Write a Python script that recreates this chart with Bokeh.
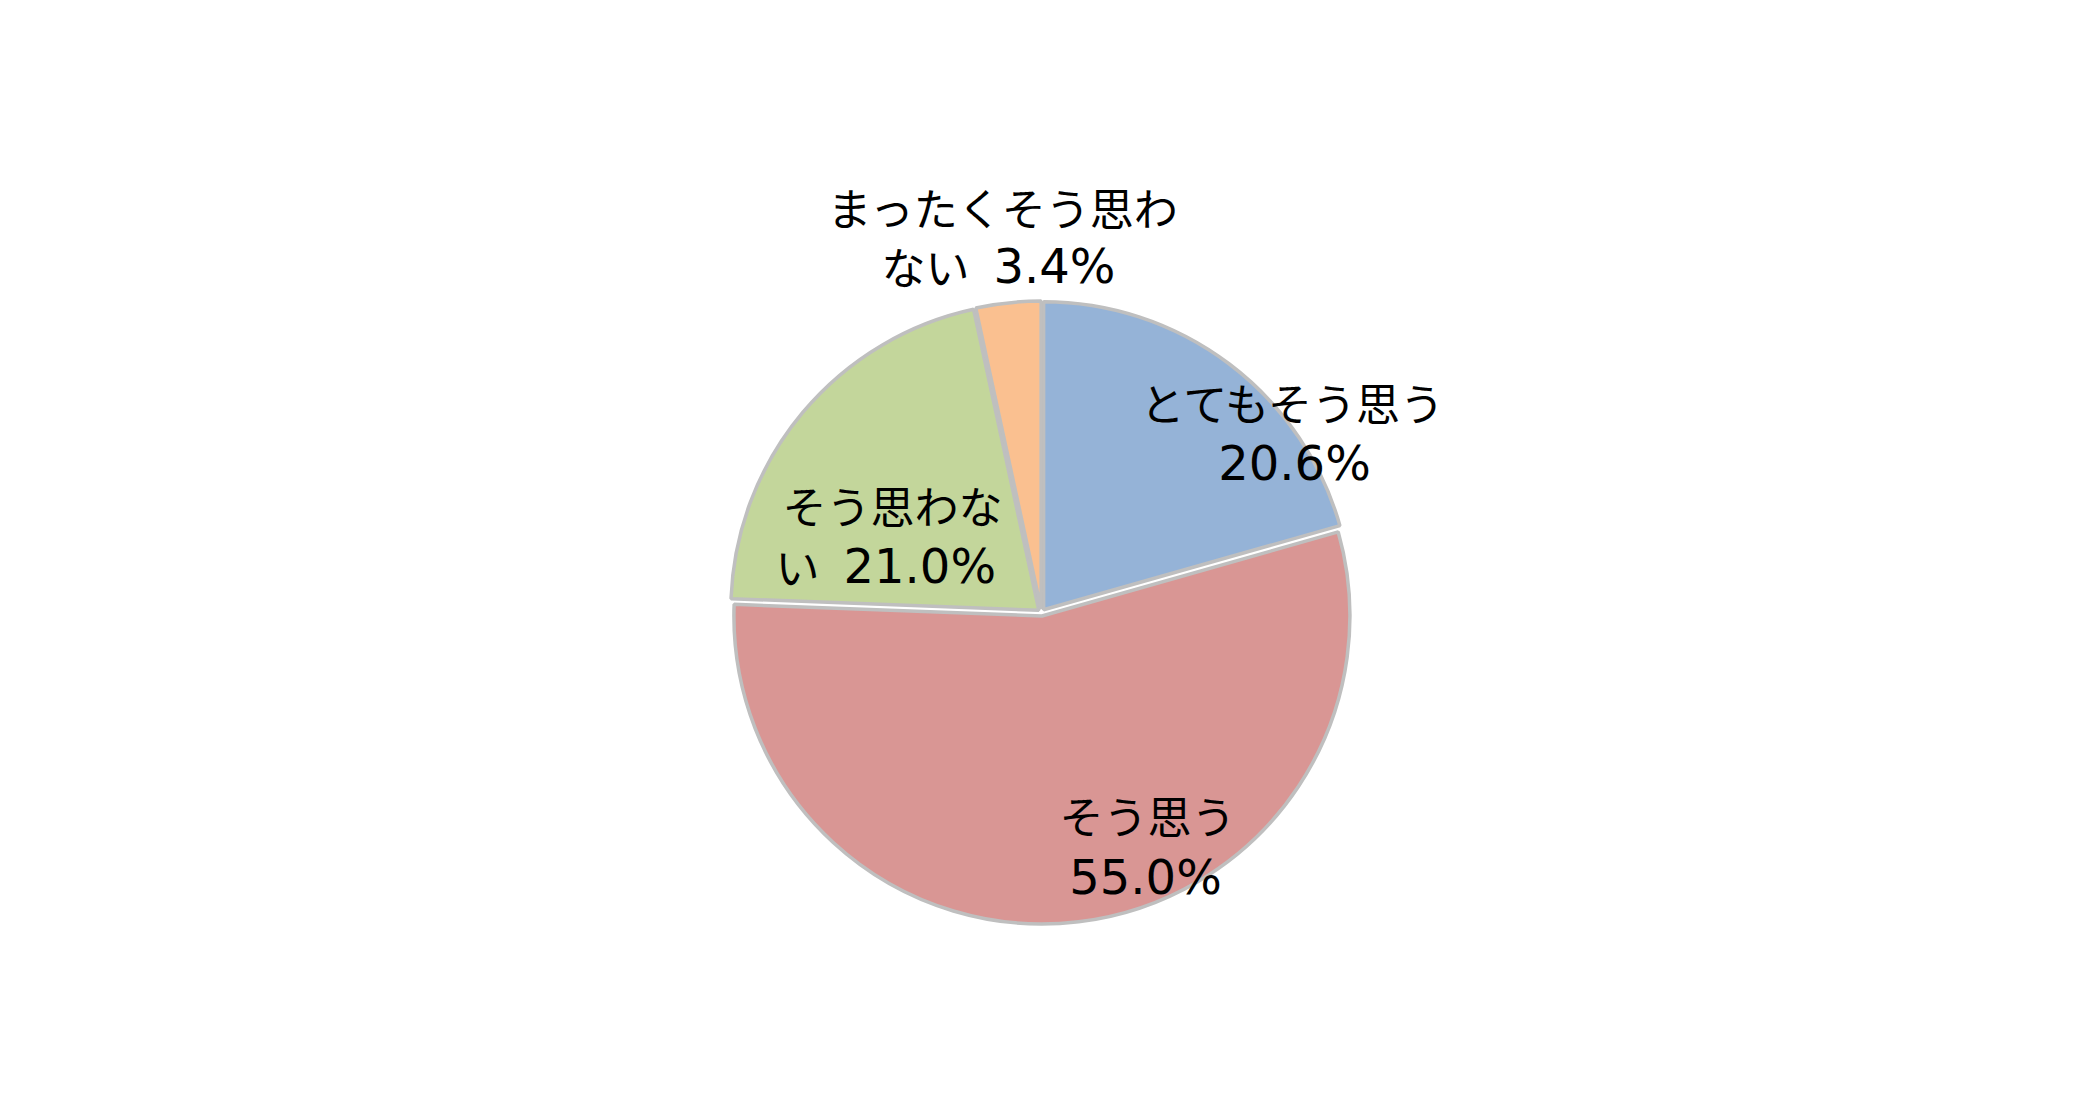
import math
from bokeh.plotting import figure
from bokeh.models import Range1d, ColumnDataSource
from bokeh.core.properties import value
from bokeh.embed import file_html
from bokeh.resources import INLINE

# ---- data ----
categories = ["とてもそう思う", "そう思う", "そう思わない", "まったくそう思わない"]
values = [20.6, 55.0, 21.0, 3.4]
colors = ["#95B3D7", "#D99694", "#C3D69B", "#FAC090"]

# ---- layout (screen px) ----
W, H = 2065, 1096
CXS, CYS = 1041, 612      # pie centre on screen
R = 308
EXPLODE = 3.5
JP_FONT = "Noto Sans CJK JP"
NUM_FONT = "DejaVu Sans"
JP_FS = 44
NUM_FS = 48
wrap_at = [7, 4, 5, 8]
# (line1 centre x, line1 y), (line2 x, line2 y, mode) ; mode 'c' = centred number,
# 's' = split: x is the right edge of the japanese remainder, number starts after a gap
label_pos = [((1294, 401), (1294, 462, "c")),
             ((1147, 814), (1145, 876, "c")),
             ((892, 504), (819, 565, "s")),
             ((1003, 206), (969, 265, "s"))]
GAP = 24

p = figure(width=W, height=H, x_range=Range1d(0, W), y_range=Range1d(0, H),
           output_backend="svg", toolbar_location=None, min_border=0)
p.axis.visible = False
p.grid.visible = False
p.outline_line_color = None
p.background_fill_color = "white"
p.border_fill_color = "white"

CX, CY = CXS, H - CYS
total = sum(values)
start = math.pi / 2
xs, ys, sa, ea = [], [], [], []
for v in values:
    sweep = 2 * math.pi * v / total
    end = start - sweep
    mid = (start + end) / 2
    xs.append(CX + EXPLODE * math.cos(mid))
    ys.append(CY + EXPLODE * math.sin(mid))
    sa.append(end)
    ea.append(start)
    start = end

src = ColumnDataSource(dict(x=xs, y=ys, s=sa, e=ea, c=colors))
p.wedge(x="x", y="y", radius=R, start_angle="s", end_angle="e",
        fill_color="c", line_color="#BFBFBF", line_width=3.5, source=src)

jp = dict(x=[], y=[], t=[], a=[])
num = dict(x=[], y=[], t=[], a=[])
for cat, v, k, (l1, l2) in zip(categories, values, wrap_at, label_pos):
    line1, rest = cat[:k], cat[k:]
    pct = f"{v:.1f}%"
    jp["x"].append(l1[0]); jp["y"].append(H - l1[1]); jp["t"].append(line1); jp["a"].append("center")
    x2, y2, mode = l2
    if mode == "c":
        num["x"].append(x2); num["y"].append(H - y2); num["t"].append(pct); num["a"].append("center")
    else:
        jp["x"].append(x2); jp["y"].append(H - y2); jp["t"].append(rest); jp["a"].append("right")
        num["x"].append(x2 + GAP); num["y"].append(H - y2); num["t"].append(pct); num["a"].append("left")

p.text(x="x", y="y", text="t", text_align="a", text_baseline="middle",
       text_font=value(JP_FONT), text_font_size=f"{JP_FS}px", text_color="black",
       source=ColumnDataSource(jp))
p.text(x="x", y="y", text="t", text_align="a", text_baseline="middle",
       text_font=value(NUM_FONT), text_font_size=f"{NUM_FS}px", text_color="black",
       source=ColumnDataSource(num))

open("out.html", "w").write(file_html(p, INLINE))
